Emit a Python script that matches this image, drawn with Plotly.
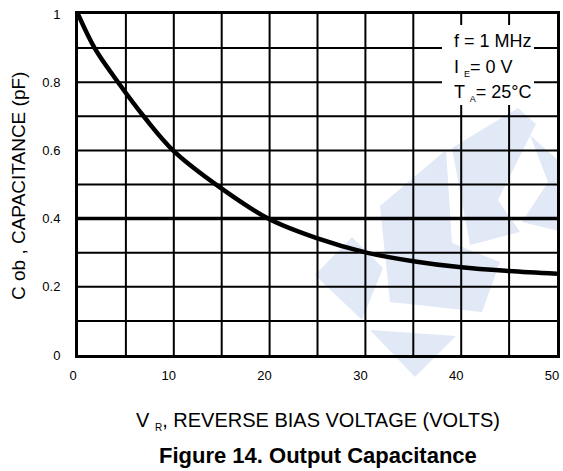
import plotly.graph_objects as go

# ---- data ----
vr_volts = [0, 1.74, 4.18, 7.0, 10, 15, 20, 25, 30, 35, 40, 45, 50]
cob_pf = [1.0, 0.9, 0.8, 0.695, 0.598, 0.488, 0.398, 0.342, 0.301, 0.275, 0.257, 0.246, 0.238]

x_tick_vals = [0, 10, 20, 30, 40, 50]
x_tick_text = ["0", "10", "20", "30", "40", "50"]
y_tick_vals = [0, 0.2, 0.4, 0.6, 0.8, 1.0]
y_tick_text = ["0", "0.2", "0.4", "0.6", "0.8", "1"]
x_grid = [5, 10, 15, 20, 25, 30, 35, 40, 45]
y_grid = [0.1, 0.2, 0.3, 0.4, 0.5, 0.6, 0.7, 0.8, 0.9]

SUB = '<sub><span style="font-size:{s}px">{t}</span></sub>'
conditions = [
    "f = 1 MHz",
    "I " + SUB.format(s=9, t="E") + "= 0 V",
    "T " + SUB.format(s=9, t="A") + "= 25°C",
]
x_title = "V " + SUB.format(s=10, t="R") + ", REVERSE BIAS VOLTAGE (VOLTS)"
y_title = "C ob , CAPACITANCE (pF)"
fig_title = "<b>Figure 14. Output Capacitance</b>"

# ---- layout geometry ----
W, H = 563, 471
L, R, T, B = 78, 6, 14, 116
PW, PH = W - L - R, H - T - B
X_MAX, Y_MAX = 50, 1.0


def px(x):
    return (x - L) / PW


def py(y):
    return (T + PH - y) / PH


def dx(x):
    return (x - L) / PW * X_MAX


def dy(y):
    return (T + PH - y) / PH * Y_MAX


FONT = "Arial, Liberation Sans, sans-serif"
WM = "#e1e8f6"

# watermark polygons (page pixels) - drawn under the grid
watermark_in = [
    [(370, 330), (456, 336), (437, 355), (394, 355)],
    [(315, 275), (352, 237), (383, 268), (362, 320)],
    [(380, 206), (446, 150), (452, 243), (500, 262), (482, 312), (390, 302)],
    [(452, 148), (518, 108), (536, 124), (498, 200), (520, 232), (470, 245)],
    [(530, 135), (563, 165), (563, 232), (522, 222), (548, 182)],
]
watermark_out = [
    [(394, 355), (437, 355), (415, 377)],
]

shapes = []
for poly in watermark_in:
    path = "M " + " L ".join(f"{dx(a):.4f},{dy(b):.5f}" for a, b in poly) + " Z"
    shapes.append(dict(type="path", path=path, xref="x", yref="y",
                       fillcolor=WM, line=dict(width=0), layer="below"))
for poly in watermark_out:
    path = "M " + " L ".join(f"{px(a):.4f},{py(b):.5f}" for a, b in poly) + " Z"
    shapes.append(dict(type="path", path=path, xref="paper", yref="paper",
                       fillcolor=WM, line=dict(width=0), layer="below"))

# grid lines drawn above the watermark
for gx in x_grid:
    shapes.append(dict(type="line", xref="x", yref="y", x0=gx, x1=gx, y0=0, y1=Y_MAX,
                       line=dict(color="black", width=2), layer="above"))
for gy in y_grid:
    w = 3.5 if abs(gy - 0.4) < 1e-9 else 2
    shapes.append(dict(type="line", xref="x", yref="y", x0=0, x1=X_MAX, y0=gy, y1=gy,
                       line=dict(color="black", width=w), layer="above"))

# white box behind conditions
shapes.append(dict(type="rect", xref="paper", yref="paper",
                   x0=px(442), x1=px(534), y0=py(105), y1=py(25),
                   fillcolor="white", line=dict(width=0), layer="above"))

fig = go.Figure()
fig.add_trace(go.Scatter(x=vr_volts, y=cob_pf, mode="lines",
                         line=dict(color="black", width=4.5, shape="spline", smoothing=1),
                         hoverinfo="skip", showlegend=False))

annotations = []
cond_y = [41, 68, 93]
for txt, yy in zip(conditions, cond_y):
    annotations.append(dict(text=txt, xref="paper", yref="paper", x=px(452), y=py(yy),
                            xanchor="left", yanchor="middle", showarrow=False,
                            font=dict(family=FONT, size=18, color="black")))

annotations.append(dict(text=x_title, xref="paper", yref="paper", x=0.5, y=py(421),
                        xanchor="center", yanchor="middle", showarrow=False,
                        font=dict(family=FONT, size=20, color="black")))
annotations.append(dict(text=fig_title, xref="paper", yref="paper", x=0.5, y=py(455),
                        xanchor="center", yanchor="middle", showarrow=False,
                        font=dict(family=FONT, size=22, color="black")))
annotations.append(dict(text=y_title, textangle=-90, xref="paper", yref="paper",
                        x=px(18), y=py(186), xanchor="center", yanchor="middle",
                        showarrow=False, font=dict(family=FONT, size=19, color="black")))

axis_common = dict(showline=True, linewidth=3, linecolor="black", mirror=True,
                   showgrid=False, zeroline=False,
                   ticks="outside", tickcolor="rgba(0,0,0,0)", automargin=False,
                   ticklabeloverflow="allow",
                   tickfont=dict(family=FONT, size=13, color="black"))

fig.update_layout(
    template="none",
    width=W, height=H,
    margin=dict(l=L, r=R, t=T, b=B, autoexpand=False),
    paper_bgcolor="white", plot_bgcolor="white",
    xaxis=dict(range=[0, X_MAX], tickvals=x_tick_vals, ticktext=x_tick_text, ticklen=6,
               ticklabelshift=-5, **axis_common),
    yaxis=dict(range=[0, Y_MAX], tickvals=y_tick_vals, ticktext=y_tick_text, ticklen=12,
               **axis_common),
    shapes=shapes,
    annotations=annotations,
    showlegend=False,
)

fig.write_html("out.html")
